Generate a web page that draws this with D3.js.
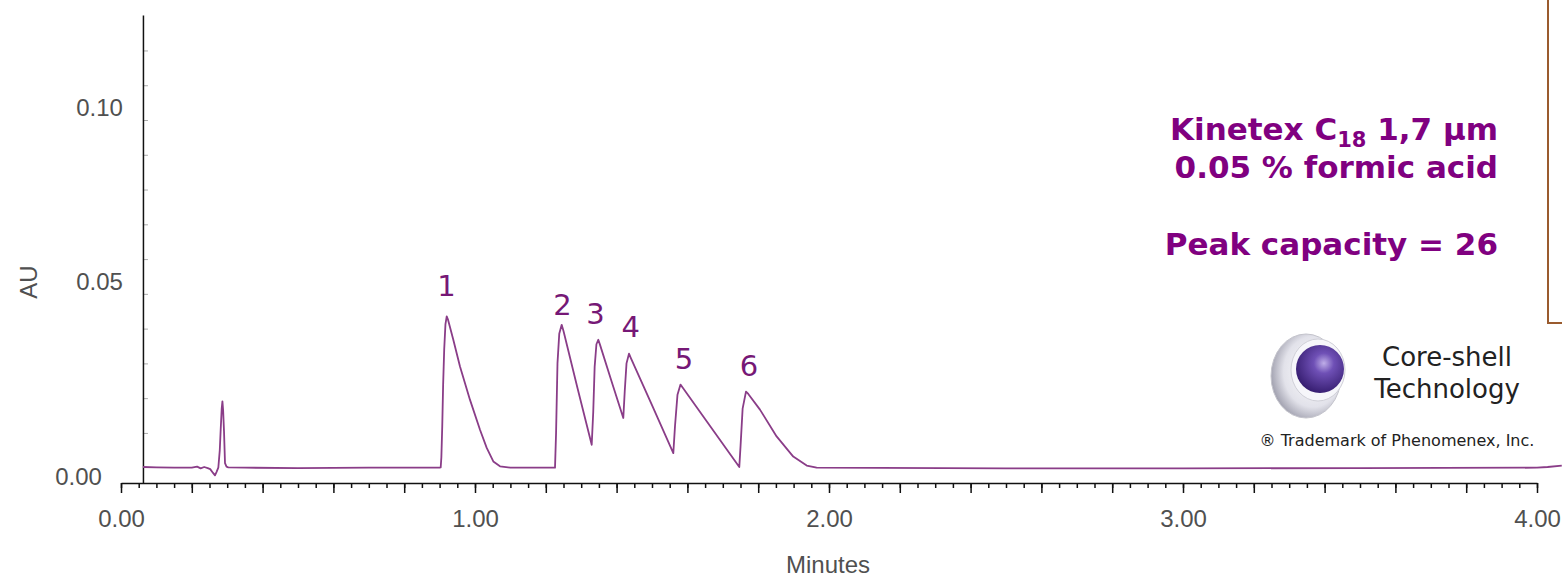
<!DOCTYPE html>
<html>
<head>
<meta charset="utf-8">
<script src="https://cdn.jsdelivr.net/npm/d3@7"></script>
<style>
    html, body { margin: 0; padding: 0; background: #fff; }
    svg { display: block; }
    .tick-label { font-family: "Liberation Sans", Arial, sans-serif; fill: #505050; }
</style>
</head>
<body>
<div id="chromatogram"></div>
<script>
// Retention time (minutes) and absorbance (AU)
const traceTime = [
    0.062, 0.10, 0.15, 0.20, 0.215, 0.225, 0.235, 0.245, 0.252, 0.260, 0.2655, 0.270,
    0.2749, 0.2790, 0.2816, 0.2845, 0.2865, 0.2885, 0.2910, 0.2938, 0.2980, 0.303,
    0.35, 0.50, 0.70, 0.90,
    0.9031, 0.9050, 0.9075, 0.9100, 0.9130, 0.9165, 0.9201, 0.9240, 0.9387, 0.9576,
    0.9859, 1.0141, 1.0331, 1.0517, 1.0706, 1.10, 1.20,
    1.2260, 1.2290, 1.2330, 1.2380, 1.2449, 1.2500, 1.2900, 1.3297,
    1.3340, 1.3380, 1.3430, 1.3483, 1.3530, 1.3850, 1.4189,
    1.4230, 1.4280, 1.4350, 1.4400, 1.5000, 1.5602,
    1.5650, 1.5720, 1.5805, 1.5870, 1.6640, 1.7466,
    1.7500, 1.7560, 1.7655, 1.7720, 1.8050, 1.8520, 1.8990, 1.9370, 1.9650,
    2.50, 3.00, 3.50, 4.00, 4.03, 4.07
];
const traceAU = [
    0.0002, 0.0001, 0.0000, 0.0000, 0.0003, -0.0002, 0.0002, -0.0001, -0.0004, -0.0015, -0.0022, -0.0012,
    0.0000, 0.0050, 0.0109, 0.0170, 0.0191, 0.0165, 0.0105, 0.0013, 0.0003, 0.0001,
    0.0000, -0.0001, 0.0000, 0.0000,
    0.0001, 0.0030, 0.0120, 0.0240, 0.0340, 0.0412, 0.0435, 0.0425, 0.0368, 0.0291,
    0.0195, 0.0109, 0.0057, 0.0018, 0.0004, 0.0000, 0.0000,
    0.0000, 0.0100, 0.0300, 0.0385, 0.0411, 0.0393, 0.0227, 0.0066,
    0.0160, 0.0290, 0.0355, 0.0368, 0.0354, 0.0251, 0.0143,
    0.0220, 0.0300, 0.0328, 0.0316, 0.0180, 0.0042,
    0.0120, 0.0210, 0.0239, 0.0230, 0.0120, 0.0002,
    0.0060, 0.0170, 0.0219, 0.0212, 0.0167, 0.0090, 0.0032, 0.0006, 0.0000,
    -0.0002, -0.0002, -0.0001, 0.0000, 0.0002, 0.0006
];

// Peak numbers and where their labels sit (time, AU)
const peakNames = ["1", "2", "3", "4", "5", "6"];
const peakLabelTime = [0.9195, 1.2470, 1.3400, 1.4398, 1.5904, 1.7740];
const peakLabelAU = [0.0525, 0.0470, 0.0442, 0.0405, 0.0315, 0.0295];

// Axis ticks
const xLabelTicks = [0, 1, 2, 3, 4];
const yLabelTicks = [0, 0.05, 0.10];

// Annotation text
const columnLines = ["0.05 % formic acid", "Peak capacity = 26"];
const logoLines = ["Core-shell", "Technology"];
const trademarkText = "\u00AE Trademark of Phenomenex, Inc.";

const ChromatogramChart = {
    render() {
        const width = 1562, height = 577;
        const purple = "#800080";

        const svg = d3.select("#chromatogram")
            .append("svg")
            .attr("width", width)
            .attr("height", height);

        svg.append("rect")
            .attr("width", width)
            .attr("height", height)
            .attr("fill", "#fff");

        const xScale = d3.scaleLinear().domain([0, 4]).range([121, 1537]);
        const yScale = d3.scaleLinear().domain([-0.0044, 0.1302]).range([483, 15]);
        const yAxisX = xScale(0.062);

        // minor y ticks, faint, on the inside of the axis
        svg.append("g")
            .attr("transform", `translate(${yAxisX},0)`)
            .call(d3.axisRight(yScale).tickValues(d3.range(1, 13).map(d => d / 100)).tickSize(5).tickFormat(""))
            .call(g => g.select(".domain").remove())
            .call(g => g.selectAll("line").attr("stroke", "#aaa").attr("stroke-width", 1));

        // y axis line + labels
        const yAxis = svg.append("g")
            .attr("transform", `translate(${yAxisX},0)`)
            .call(d3.axisLeft(yScale)
                .tickValues(yLabelTicks)
                .tickSize(0)
                .tickSizeOuter(0)
                .tickPadding(20)
                .tickFormat(d3.format(".2f")));
        yAxis.select(".domain").attr("stroke", "#111").attr("stroke-width", 1.5);
        yAxis.selectAll("text")
            .attr("class", "tick-label")
            .style("font-size", "24px")
            .attr("dy", d => d === 0 ? "0.72em" : "-0.2em")
            .attr("x", d => d === 0 ? -41 : -20);

        svg.append("text")
            .attr("class", "tick-label")
            .attr("transform", `translate(37,282) rotate(-90)`)
            .attr("text-anchor", "middle")
            .style("font-size", "24px")
            .text("AU");

        // x axis: minor ticks every 0.05, major every 0.2
        svg.append("g")
            .attr("transform", "translate(0,483)")
            .call(d3.axisBottom(xScale).tickValues(d3.range(0, 81).map(i => i * 0.05)).tickSize(5).tickFormat(""))
            .call(g => g.select(".domain").remove())
            .call(g => g.selectAll("line").attr("stroke", "#111").attr("stroke-width", 1.5));

        const xAxis = svg.append("g")
            .attr("transform", "translate(0,483)")
            .call(d3.axisBottom(xScale)
                .tickValues(d3.range(0, 21).map(i => i * 0.2))
                .tickSize(10)
                .tickSizeOuter(0)
                .tickPadding(17)
                .tickFormat(d => xLabelTicks.some(v => Math.abs(v - d) < 1e-6) ? d3.format(".2f")(d) : ""));
        xAxis.select(".domain").attr("stroke", "#111").attr("stroke-width", 1.5);
        xAxis.selectAll("line").attr("stroke", "#111").attr("stroke-width", 1.5);
        xAxis.selectAll("text")
            .attr("class", "tick-label")
            .style("font-size", "24px");

        svg.append("text")
            .attr("class", "tick-label")
            .attr("x", 828)
            .attr("y", 573)
            .attr("text-anchor", "middle")
            .style("font-size", "24px")
            .text("Minutes");

        // the trace
        const points = traceTime.map((t, i) => [t, traceAU[i]]);
        const line = d3.line()
            .x(d => xScale(d[0]))
            .y(d => yScale(d[1]));

        svg.append("path")
            .datum(points)
            .attr("d", line)
            .attr("fill", "none")
            .attr("stroke", "#8a3d88")
            .attr("stroke-width", 1.8)
            .attr("stroke-linejoin", "round");

        // peak numbers
        svg.selectAll(".peak-label")
            .data(peakNames)
            .enter()
            .append("text")
            .attr("class", "peak-label")
            .attr("x", (d, i) => xScale(peakLabelTime[i]))
            .attr("y", (d, i) => yScale(peakLabelAU[i]))
            .attr("dy", "0.36em")
            .attr("text-anchor", "middle")
            .style("font-family", "'DejaVu Sans', Verdana, sans-serif")
            .style("font-size", "29px")
            .style("fill", "#761876")
            .text(d => d);

        // column / conditions text
        const info = svg.append("g")
            .style("font-family", "'DejaVu Sans', Verdana, sans-serif")
            .style("font-weight", "bold")
            .style("font-size", "31px")
            .style("fill", purple)
            .attr("text-anchor", "end");

        const title = info.append("text").attr("x", 1498).attr("y", 140);
        title.append("tspan").text("Kinetex C");
        title.append("tspan").attr("dy", 7).style("font-size", "21px").text("18");
        title.append("tspan").attr("dy", -7).text(" 1,7 \u00B5m");

        info.append("text").attr("x", 1498).attr("y", 178).text(columnLines[0]);
        info.append("text").attr("x", 1498).attr("y", 255).text(columnLines[1]);

        // brown frame edge on the right
        svg.append("path")
            .attr("d", "M1548,0V323H1562")
            .attr("fill", "none")
            .attr("stroke", "#9a5b2e")
            .attr("stroke-width", 2);

        // core-shell logo
        const defs = svg.append("defs");
        const shellGrad = defs.append("radialGradient").attr("id", "shell").attr("cx", "60%").attr("cy", "45%").attr("r", "60%");
        shellGrad.append("stop").attr("offset", "0%").attr("stop-color", "#ffffff");
        shellGrad.append("stop").attr("offset", "70%").attr("stop-color", "#e2e2ea");
        shellGrad.append("stop").attr("offset", "100%").attr("stop-color", "#a4a4b2");
        const coreGrad = defs.append("radialGradient").attr("id", "core").attr("cx", "58%").attr("cy", "38%").attr("r", "70%");
        coreGrad.append("stop").attr("offset", "0%").attr("stop-color", "#bfaee8");
        coreGrad.append("stop").attr("offset", "30%").attr("stop-color", "#6f50b6");
        coreGrad.append("stop").attr("offset", "100%").attr("stop-color", "#2e1666");

        const logo = svg.append("g");
        logo.append("ellipse")
            .attr("cx", 1306).attr("cy", 376).attr("rx", 35).attr("ry", 42)
            .attr("fill", "url(#shell)")
            .attr("stroke", "#c4c4cc").attr("stroke-width", 1);
        logo.append("ellipse")
            .attr("cx", 1318).attr("cy", 370).attr("rx", 27).attr("ry", 31)
            .attr("fill", "#f6f6fa")
            .attr("stroke", "#d0d0d8").attr("stroke-width", 1);
        logo.append("circle")
            .attr("cx", 1320).attr("cy", 369).attr("r", 24)
            .attr("fill", "url(#core)");

        logo.selectAll(".logo-line")
            .data(logoLines)
            .enter()
            .append("text")
            .attr("class", "logo-line")
            .attr("x", 1447)
            .attr("y", (d, i) => 366 + i * 32)
            .attr("text-anchor", "middle")
            .style("font-family", "'DejaVu Sans', Tahoma, sans-serif")
            .style("font-size", "26px")
            .style("fill", "#222")
            .text(d => d);

        logo.append("text")
            .attr("x", 1397)
            .attr("y", 446)
            .attr("text-anchor", "middle")
            .style("font-family", "'DejaVu Sans', Tahoma, sans-serif")
            .style("font-size", "16px")
            .style("fill", "#222")
            .text(trademarkText);
    }
};

document.addEventListener('DOMContentLoaded', () => {
    ChromatogramChart.render();
});
</script>
</body>
</html>
